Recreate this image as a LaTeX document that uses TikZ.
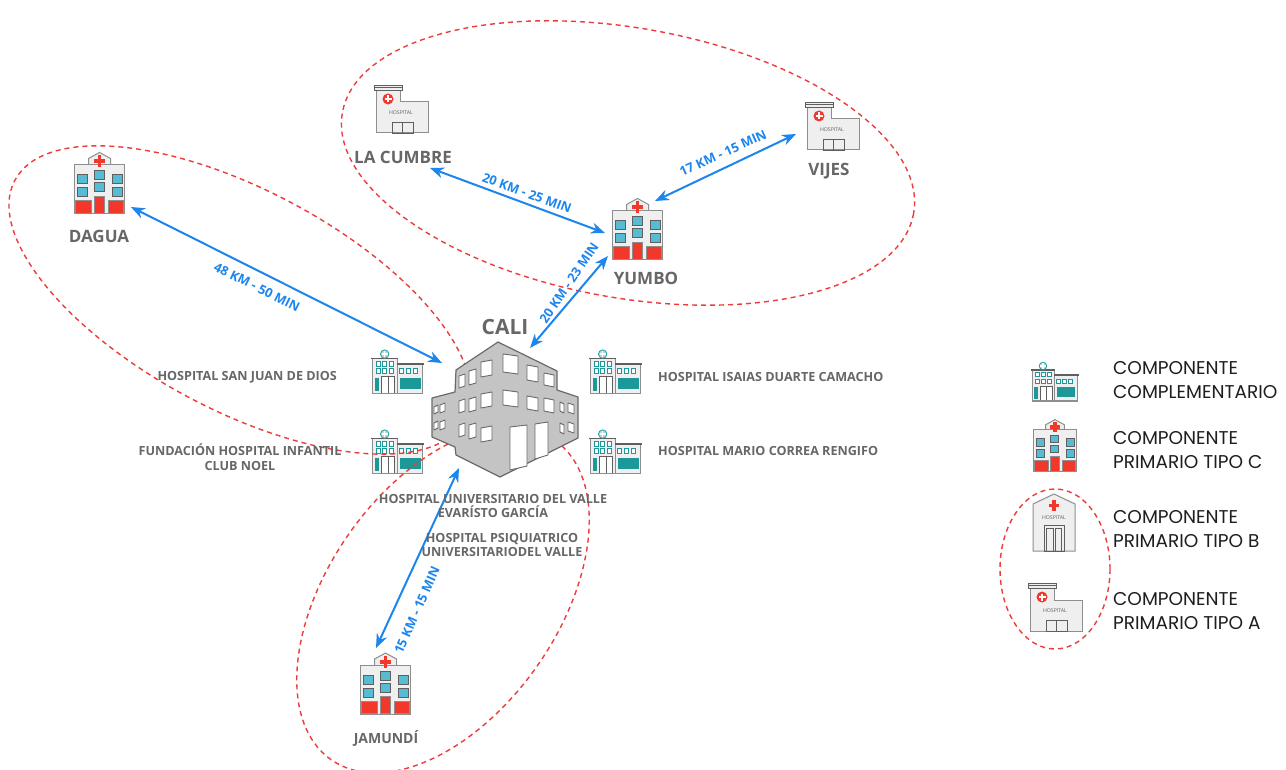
\documentclass[tikz,border=0pt]{standalone}
\usepackage{fontspec}
\setmainfont{Open Sans}
\newfontfamily\legendfont{Poppins}
\usetikzlibrary{arrows.meta}

\definecolor{iconline}{HTML}{8E8E8E}
\definecolor{iconfill}{HTML}{EFEFEF}
\definecolor{darkline}{HTML}{5F5F5F}
\definecolor{hred}{HTML}{F2382B}
\definecolor{wblue}{HTML}{56BCD3}
\definecolor{tealc}{HTML}{1C9898}
\definecolor{bldfill}{HTML}{C4C4C4}
\definecolor{bldline}{HTML}{6A6A6A}
\definecolor{linkblue}{HTML}{1C86EE}
\definecolor{dashred}{HTML}{EE3B3B}
\definecolor{labelgray}{HTML}{676767}
\definecolor{legendtext}{HTML}{1E1E1E}

\tikzset{
  % primary type C: gabled block, blue windows, red base
  pics/tipoC/.style={code={
    \draw[iconline, fill=iconfill, line width=1pt] (-11,-19) -- (-11,-25) -- (0,-31) -- (11,-25) -- (11,-19);
    \draw[iconline, fill=iconfill, line width=1pt] (-25,-19) rectangle (25,30);
    \fill[hred] (-1.9,-28) rectangle (1.9,-16.5);
    \fill[hred] (-5.5,-24.2) rectangle (5.5,-20.4);
    \foreach \x/\y in {-22/-9,-22/4,-5/-13,-5/-1,13/-9,13/4}
      \draw[darkline, fill=wblue, line width=.7pt] (\x,\y) rectangle ++(9.5,9);
    \draw[iconline, fill=hred, line width=.7pt] (-24,17) rectangle (-8,29.5);
    \draw[iconline, fill=hred, line width=.7pt] (-5,12.5) rectangle (5,29.5);
    \draw[iconline, fill=hred, line width=.7pt] (9,17) rectangle (24,29.5);
  }},
  % primary type A: flat block with cornice and red roundel
  pics/tipoA/.style={code={
    \draw[iconline, fill=iconfill, line width=1pt] (-26,-20) -- (-2,-20) -- (-2,-8) -- (26,-8) -- (26,23) -- (-26,23) -- cycle;
    \draw[darkline, fill=iconfill, line width=.8pt] (-28,-25) rectangle (0,-20);
    \draw[darkline, line width=.6pt] (-28,-22.5) -- (0,-22.5);
    \fill[hred] (-14,-11) circle (5.5);
    \fill[white] (-15,-14.5) rectangle (-13,-7.5);
    \fill[white] (-17.5,-12) rectangle (-10.5,-10);
    \node[font=\fontsize{5.2}{6}\selectfont, text=darkline, inner sep=0] (-tag) at (-1,3) {HOSPITAL};
    \draw[darkline, line width=.9pt] (-10,12) rectangle (11,23);
    \draw[darkline, line width=.7pt] (0.5,12) -- (0.5,23);
  }},
  % primary type B: gabled house with red cross
  pics/tipoB/.style={code={
    \draw[iconline, fill=iconfill, line width=1pt] (-21,28) -- (-21,-19) -- (0,-29) -- (21,-19) -- (21,28) -- cycle;
    \fill[hred] (-1.7,-23) rectangle (1.7,-12);
    \fill[hred] (-5.2,-19.2) rectangle (5.2,-15.8);
    \node[font=\fontsize{5.2}{6}\selectfont, text=darkline, inner sep=0] (-tag) at (0,-5) {HOSPITAL};
    \draw[darkline, line width=.8pt] (-10,2) rectangle (10,28);
    \draw[darkline, line width=.6pt] (-7.5,5) rectangle (-1,28);
    \draw[darkline, line width=.6pt] (1,5) rectangle (7.5,28);
  }},
  % complementary component: low building with teal details
  pics/compl/.style={code={
    \draw[iconline, fill=iconfill, line width=.8pt] (-22,-12) rectangle (0,19);
    \draw[iconline, fill=iconfill, line width=.8pt] (0,-7) rectangle (23,19);
    \draw[darkline, line width=1.6pt] (-23.5,-12) -- (1,-12);
    \draw[darkline, line width=1.6pt] (0,-7) -- (24.5,-7);
    \draw[tealc, fill=tealc!35, line width=.7pt] (-11,-16) circle (3.8);
    \fill[white] (-11.6,-18.6) rectangle (-10.4,-13.4);
    \fill[white] (-13.6,-16.6) rectangle (-8.4,-15.4);
    \foreach \x in {-17,-11,-5}
      \draw[tealc, fill=white, line width=.6pt] (\x-1.8,-10) rectangle (\x+1.8,-5.5);
    \foreach \x in {-17,-11,-5,4,10,16}
      \draw[tealc, fill=white, line width=.6pt] (\x-1.8,-3) rectangle (\x+1.8,1.5);
    \fill[tealc] (-20,5) rectangle (-16.5,17);
    \draw[darkline, fill=white, line width=.7pt] (-14,4) rectangle (-2,19);
    \draw[darkline, line width=.6pt] (-8,4) -- (-8,19);
    \fill[tealc] (3,5) rectangle (21,15);
    \draw[iconline, line width=1.2pt] (-22,19) -- (23,19);
  }},
  zone/.style={dashred, line width=1.4pt, dash pattern=on 5pt off 4pt},
  link/.style={linkblue, line width=2pt, {Stealth[length=14pt,width=11pt]}-{Stealth[length=14pt,width=11pt]}},
  linklbl/.style={text=linkblue, font=\bfseries\fontsize{12.8}{13}\selectfont, inner sep=0},
  townlbl/.style={text=labelgray, font=\bfseries\fontsize{17}{20}\selectfont, inner sep=0},
  hosplbl/.style={text=labelgray, font=\bfseries\fontsize{12.6}{14.5}\selectfont, inner sep=0, align=center},
  legendlbl/.style={text=legendtext, font=\legendfont\fontsize{18.5}{24.5}\selectfont, inner sep=0, align=left, anchor=west},
  win/.style={bldline, fill=white, line width=.9pt, line join=round},
}

% windows on the left and right faces of the central building
\newcommand\lwin[4]{\draw[win] (#1,#2+2) -- (#3,#2) -- (#3,#4) -- (#1,#4+2) -- cycle;}
\newcommand\rwin[4]{\draw[win] (#1,#2) -- (#3,#2+2) -- (#3,#4+2) -- (#1,#4) -- cycle;}

\begin{document}
\begin{tikzpicture}[x=1pt, y=-1pt]
\useasboundingbox[fill=white] (0,0) rectangle (1286,770);

% complementary hospitals around Cali
\pic (sanjuan) at (397,372) [scale=1.12] {compl};
\pic (noel) at (397,452) [scale=1.12] {compl};
\pic (isaias) at (615,372) [scale=1.12] {compl};
\pic (mario) at (615,452) [scale=1.12] {compl};

% service zones
\draw[zone, rotate around={-10:(628,163)}] (628,163) ellipse [x radius=290, y radius=135];
\draw[zone, rotate around={-28:(240,300)}] (240,300) ellipse [x radius=255, y radius=110];
\draw[zone, rotate around={55:(443,600)}] (443,600) ellipse [x radius=195, y radius=115];

% Cali main hospital building
\draw[bldline, fill=bldfill, line width=1.2pt, line join=round]
  (498,342) -- (557,371) -- (557,390) -- (578,397) -- (578,438) -- (556,449) -- (500,477)
  -- (456,455) -- (455,447) -- (432,437) -- (432,398) -- (455,392) -- (456,370) -- cycle;
\lwin{459}{374}{465}{386} \lwin{469}{369}{476}{383} \lwin{481}{360}{492}{375}
\lwin{459}{399}{465}{411} \lwin{469}{397}{476}{410} \lwin{481}{392}{492}{406}
\lwin{459}{423}{465}{435} \lwin{469}{423}{476}{437} \lwin{481}{426}{492}{440}
\lwin{434}{405}{438}{412} \lwin{440}{403}{445}{411}
\lwin{434}{421}{438}{428} \lwin{440}{420}{445}{428}
\rwin{503}{354}{518}{372} \rwin{527}{365}{538}{380} \rwin{544}{373}{554}{385}
\rwin{503}{390}{518}{405} \rwin{527}{396}{538}{409} \rwin{544}{398}{554}{411}
\rwin{560}{402}{564}{411} \rwin{568}{403}{574}{412}
\rwin{560}{423}{564}{432} \rwin{568}{422}{574}{431}
\draw[win] (510,427) -- (527,425) -- (527,466) -- (510,470) -- cycle;
\draw[win] (535,424) -- (548,422) -- (548,455) -- (535,459) -- cycle;

% municipal hospitals
\pic (dagua) at (99.5,183.5) {tipoC};
\pic (yumbo) at (637.5,229.5) {tipoC};
\pic (jamundi) at (385.5,684) {tipoC};
\pic (cumbre) at (402,110) {tipoA};
\pic (vijes) at (833,127) {tipoA};

% link end points
\coordinate (dagua-e) at (131,207);
\coordinate (cali-w) at (442,363);
\coordinate (cumbre-e) at (430,168);
\coordinate (yumbo-w) at (605,233);
\coordinate (yumbo-ne) at (655,201);
\coordinate (vijes-w) at (796,134);
\coordinate (yumbo-s) at (608,256);
\coordinate (cali-ne) at (530,348);
\coordinate (cali-s) at (459,468);
\coordinate (jamundi-n) at (376,648);

% links
\draw[link] (dagua-e) -- (cali-w);
\draw[link] (cumbre-e) -- (yumbo-w);
\draw[link] (yumbo-ne) -- (vijes-w);
\draw[link] (yumbo-s) -- (cali-ne);
\draw[link] (cali-s) -- (jamundi-n);

% distances and travel times
\node[linklbl, rotate=-26.4] (d-dagua) at (257,287) {48 KM - 50 MIN};
\node[linklbl, rotate=-20.3] (d-cumbre) at (527,193) {20 KM - 25 MIN};
\node[linklbl, rotate=24.2] (d-vijes) at (723,153) {17 KM - 15 MIN};
\node[linklbl, rotate=55.7] (d-yumbo) at (569,283) {20 KM - 23 MIN};
\node[linklbl, rotate=66] (d-jamundi) at (417,610) {15 KM - 15 MIN};

% town names
\node[townlbl] (n-dagua) at (99,236) {DAGUA};
\node[townlbl] (n-cumbre) at (403,157) {LA CUMBRE};
\node[townlbl] (n-vijes) at (829,171) {VIJES};
\node[townlbl] (n-yumbo) at (646,278) {YUMBO};
\node[townlbl, font=\bfseries\fontsize{21}{24}\selectfont] (n-cali) at (505,327) {CALI};
\node[townlbl, font=\bfseries\fontsize{14}{16}\selectfont] (n-jamundi) at (386,738) {JAMUNDÍ};

% hospitals in Cali
\node[hosplbl, anchor=east] (h-sanjuan) at (337,377) {HOSPITAL SAN JUAN DE DIOS};
\node[hosplbl] (h-noel) at (240,457) {FUNDACIÓN HOSPITAL INFANTIL\\CLUB NOEL};
\node[hosplbl, anchor=west] (h-isaias) at (658,377) {HOSPITAL ISAIAS DUARTE CAMACHO};
\node[hosplbl, anchor=west] (h-mario) at (658,451) {HOSPITAL MARIO CORREA RENGIFO};
\node[hosplbl] (h-univalle) at (493,506) {HOSPITAL UNIVERSITARIO DEL VALLE\\EVARÍSTO GARCÍA};
\node[hosplbl] (h-psiq) at (502,545) {HOSPITAL PSIQUIATRICO\\UNIVERSITARIODEL VALLE};

% legend
\pic (key-compl) at (1054,382) {compl};
\pic (key-c) at (1055,446) [scale=0.85] {tipoC};
\pic (key-b) at (1054,523) {tipoB};
\pic (key-a) at (1056,608) {tipoA};
\draw[zone] (1055,569) ellipse [x radius=55, y radius=80];
\node[legendlbl] (k-compl) at (1113,380) {COMPONENTE\\COMPLEMENTARIO};
\node[legendlbl] (k-c) at (1113,450) {COMPONENTE\\PRIMARIO TIPO C};
\node[legendlbl] (k-b) at (1113,529) {COMPONENTE\\PRIMARIO TIPO B};
\node[legendlbl] (k-a) at (1113,611) {COMPONENTE\\PRIMARIO TIPO A};
\end{tikzpicture}
\end{document}
